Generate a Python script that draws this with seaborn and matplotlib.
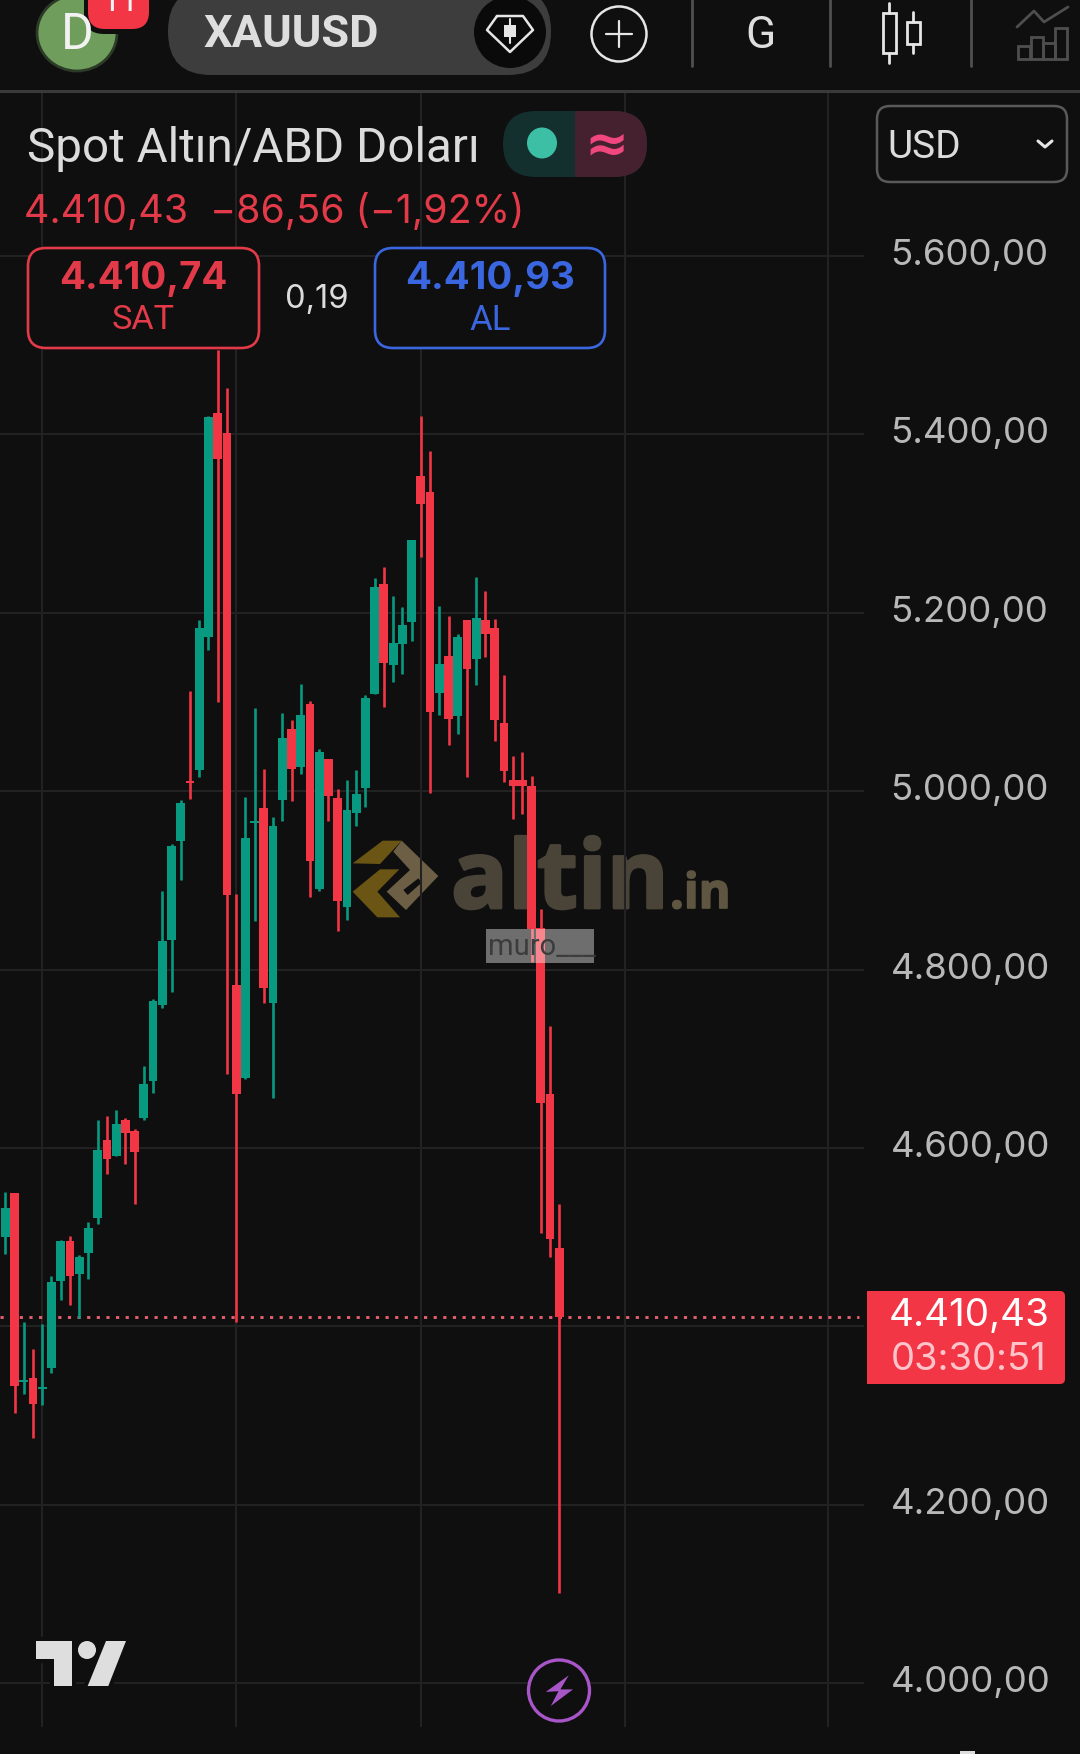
import numpy as np
import matplotlib
matplotlib.use("Agg")
import matplotlib.pyplot as plt
from matplotlib.patches import Circle, Ellipse, FancyBboxPatch, Polygon, Rectangle
from matplotlib.transforms import ScaledTranslation
import matplotlib.patheffects as pe
import seaborn as sns

# candles, oldest first
opens = [4499.7, 4549.3, 4338.3, 4342.7, 4329.6, 4354.0, 4451.0, 4496.3, 4459.3, 4482.7,
         4521.6, 4609.0, 4591.5, 4631.9, 4618.8, 4633.3, 4675.6, 4760.7, 4832.6, 4944.4,
         5011.3, 5023.6, 5173.0, 5424.0, 5401.0, 4782.6, 4678.1, 4964.2, 4980.8, 4762.2,
         4990.4, 5069.6, 5027.0, 5098.0, 4890.0, 5036.1, 4992.0, 4870.0, 4976.0, 5004.0,
         5109.3, 5232.2, 5141.3, 5165.3, 5189.0, 5353.1, 5335.2, 5110.0, 5151.4, 5084.2,
         5192.2, 5148.0, 5191.8, 5182.8, 5076.3, 5012.4, 5012.4, 5005.3, 4846.6, 4660.6,
         4488.0]
highs = [4550.7, 4549.5, 4404.9, 4374.8, 4402.5, 4456.0, 4497.2, 4501.1, 4480.2, 4516.7,
         4630.9, 4635.8, 4643.0, 4633.3, 4621.2, 4691.6, 4767.0, 4888.5, 4941.0, 4990.5,
         5112.2, 5191.7, 5420.4, 5494.3, 5451.4, 4885.1, 4993.9, 5092.8, 5024.4, 4971.0,
         5087.2, 5079.7, 5120.2, 5101.0, 5046.9, 5036.1, 5002.0, 5012.0, 5024.0, 5107.2,
         5238.9, 5251.1, 5218.2, 5206.2, 5281.4, 5420.4, 5381.2, 5207.0, 5196.2, 5176.0,
         5192.2, 5240.2, 5224.2, 5192.9, 5130.1, 5039.4, 5044.0, 5016.9, 4867.9, 4736.8,
         4537.3]
lows = [4481.7, 4302.8, 4324.7, 4274.7, 4311.6, 4347.6, 4429.2, 4424.4, 4409.8, 4453.5,
        4514.3, 4571.1, 4590.6, 4582.3, 4537.1, 4630.9, 4661.5, 4757.3, 4774.3, 4900.6,
        4991.6, 5015.4, 5158.1, 5100.2, 4682.9, 4405.0, 4677.0, 4854.4, 4762.2, 4656.2,
        4966.2, 4988.9, 5019.3, 4880.8, 4888.0, 4966.0, 4842.8, 4856.0, 4961.2, 4982.0,
        5109.0, 5094.1, 5122.1, 5131.4, 5168.2, 5262.4, 4998.0, 5085.3, 5052.1, 5064.0,
        5016.0, 5118.9, 5150.3, 5056.1, 5010.2, 4969.2, 4974.8, 4808.4, 4504.8, 4478.2,
        4100.8]
closes = [4532.7, 4333.0, 4340.3, 4312.6, 4332.5, 4449.6, 4495.8, 4456.9, 4477.8, 4510.9,
          4598.3, 4587.2, 4627.0, 4616.3, 4595.9, 4671.2, 4764.6, 4831.6, 4938.0, 4986.6,
          5009.6, 5182.4, 5419.6, 5371.8, 4883.6, 4660.1, 4946.9, 4966.0, 4779.1, 4961.4,
          5059.5, 5025.3, 5085.3, 4922.0, 5043.3, 4994.0, 4876.8, 4978.8, 4996.8, 5104.1,
          5228.2, 5144.1, 5166.1, 5186.2, 5281.4, 5322.2, 5088.9, 5142.1, 5081.3, 5172.9,
          5137.3, 5194.1, 5176.0, 5080.1, 5022.1, 5006.0, 5006.0, 4845.4, 4650.8, 4498.0,
          4410.43]

price_ticks = [5600, 5400, 5200, 5000, 4800, 4600, 4400, 4200, 4000]
price_labels = ["5.600,00", "5.400,00", "5.200,00", "5.000,00", "4.800,00", "4.600,00", "",
                "4.200,00", "4.000,00"]
date_ticks = [4, 25, 45, 67.1, 89.1]
last_price = 4410.43

BG = "#0f0f0f"
UP = "#089981"
DOWN = "#f23645"
GRID = "#222222"
FONT = "Roboto"
NUM = "Inter"

W, H = 1080, 1754

sns.set_theme(style="dark", rc={"axes.facecolor": "none", "figure.facecolor": BG,
                                "savefig.facecolor": BG, "axes.edgecolor": BG})
plt.rcParams["font.family"] = [FONT, "DejaVu Sans"]

fig = plt.figure(figsize=(W / 100, H / 100), dpi=100)


def pixel_axes(zorder):
    a = fig.add_axes([0, 0, 1, 1], zorder=zorder)
    a.set_xlim(0, W)
    a.set_ylim(H, 0)
    a.axis("off")
    return a


def label(a, x, y, s, size, color="#dcdcdc", ha="center", weight="normal", family=FONT, **kw):
    return a.text(x, y, s, fontsize=size, color=color, ha=ha, va="center", fontweight=weight,
                  family=family, **kw)


def rounded(a, x0, y0, x1, y1, r, **kw):
    p = FancyBboxPatch((x0 + r, y0 + r), x1 - x0 - 2 * r, y1 - y0 - 2 * r,
                       boxstyle=f"round,pad={r},rounding_size={r}", **kw)
    a.add_patch(p)
    return p


# watermark sits under the candles
back = pixel_axes(0)


def zoom_pts(pts):
    return [(340 + x / 3, 810 + y / 3) for x, y in pts]


back.add_patch(Polygon(zoom_pts([(38, 160), (128, 92), (185, 92), (120, 162)]), color="#6b5515", lw=0))
back.add_patch(Polygon(zoom_pts([(38, 245), (120, 178), (178, 178), (112, 245), (180, 322), (112, 322)]),
                       color="#6b5515", lw=0))
back.add_patch(Polygon(zoom_pts([(160, 125), (185, 92), (295, 198), (198, 300), (140, 245), (210, 180)]),
                       color="#6d5f45", lw=0))
back.add_patch(Polygon(zoom_pts([(190, 240), (235, 205), (245, 218), (203, 255)]), color=BG, lw=0))
heavy = [pe.withStroke(linewidth=2, foreground="#4a4338")]
back.text(451, 908, "altin", fontsize=68, color="#4a4338", family="Open Sans", fontweight="bold",
          ha="left", va="baseline", path_effects=heavy)
back.text(670, 908, ".in", fontsize=35, color="#5e5640", family="Open Sans", fontweight="bold",
          ha="left", va="baseline", path_effects=[pe.withStroke(linewidth=1.2, foreground="#5e5640")])

# price pane, pixel 0..864 wide and 92..1727 tall
ax = fig.add_axes([0, (H - 1727) / H, 864 / W, (1727 - 92) / H], zorder=1)

idx = np.arange(len(opens))
o, h, l, c = map(np.array, (opens, highs, lows, closes))
up = c >= o

ax.vlines(idx[up], l[up], h[up], color=UP, lw=1.9, zorder=3)
ax.vlines(idx[~up], l[~up], h[~up], color=DOWN, lw=1.9, zorder=3)
sns.barplot(x=idx[up], y=(c - o)[up], bottom=o[up], native_scale=True, color=UP, saturation=1,
            width=0.95, errorbar=None, linewidth=0, ax=ax, zorder=4)
sns.barplot(x=idx[~up], y=(o - c)[~up], bottom=c[~up], native_scale=True, color=DOWN, saturation=1,
            width=0.95, errorbar=None, linewidth=0, ax=ax, zorder=4)

ax.axhline(last_price, color="#e0606f", lw=2.1, ls=(0, (1.1, 2.2)), xmax=859 / 864, zorder=2)

ax.set_xlim(-0.577, 93.0)
ax.set_ylim(3951.1, 5783.5)
ax.set_xticks(date_ticks)
ax.set_xticklabels([])
ax.set_yticks(price_ticks)
ax.set_yticklabels(price_labels, family=NUM)
ax.yaxis.tick_right()
ax.tick_params(axis="y", length=0, pad=19, labelsize=26.4, labelcolor="#b8b8b8")
ax.tick_params(axis="x", length=0)
ax.grid(True, color=GRID, lw=1.5)
ax.set_axisbelow(True)
ax.set_xlabel("")
ax.set_ylabel("")
sns.despine(ax=ax, left=True, bottom=True, right=True, top=True)
lift = ScaledTranslation(0, 4 / 100, fig.dpi_scale_trans)
for t in ax.get_yticklabels():
    t.set_transform(t.get_transform() + lift)

ui = pixel_axes(3)

# top bar
ui.add_patch(Rectangle((0, 90), W, 2.5, color="#3a3a3a", lw=0))
ui.add_patch(Ellipse((77, 33), 80, 76, fc="#6f9e5c", ec="#2c3a28", lw=2))
label(ui, 77, 35, "D", 36, "#f2f2f2")
rounded(ui, 84, -30, 152, 34, 20, fc=BG, ec="none")
rounded(ui, 88, -30, 149, 29, 17, fc=DOWN, ec="none")
label(ui, 120, 2, "11", 24, "#f5f5f5")
rounded(ui, 168, -12, 551, 75, 43, fc="#3d3d3d", ec="none")
label(ui, 291, 35, "XAUUSD", 32.5, "#dedede", weight="bold")
ui.add_patch(Circle((510, 32), 36, fc="#0a0a0a", ec="none"))
ui.plot([497, 523, 533, 510, 487, 497], [16, 16, 30, 52, 30, 16], color="#e6e6e6", lw=1.8)
ui.add_patch(Rectangle((504, 25), 12, 12, color="#e6e6e6", lw=0))
ui.plot([510, 510], [19, 43], color="#e6e6e6", lw=1.5)
ui.add_patch(Circle((619, 34), 27.5, fc="none", ec="#e6e6e6", lw=1.8))
ui.plot([606, 632], [34, 34], color="#e6e6e6", lw=1.6)
ui.plot([619, 619], [21, 47], color="#e6e6e6", lw=1.6)
for sx in (692, 830, 971):
    ui.plot([sx, sx], [0, 66], color="#505050", lw=2)
label(ui, 760, 36, "G", 32, "#dedede")
ui.plot([889, 889], [3, 13], color="#e6e6e6", lw=2)
ui.plot([889, 889], [53, 63], color="#e6e6e6", lw=2)
ui.add_patch(Rectangle((883, 13), 13, 40, fc="none", ec="#e6e6e6", lw=2))
ui.plot([913, 913], [12, 22], color="#e6e6e6", lw=2)
ui.plot([913, 913], [44, 53], color="#e6e6e6", lw=2)
ui.add_patch(Rectangle((907, 22), 13, 22, fc="none", ec="#e6e6e6", lw=2))
ui.plot([1017, 1034, 1044, 1068], [27, 11, 22, 7], color="#4e4e4e", lw=2)
for bx0, bx1, by in ((1018, 1030, 46), (1031, 1043, 37), (1043, 1055, 43), (1055, 1067, 28)):
    ui.add_patch(Rectangle((bx0, by), bx1 - bx0, 59 - by, fc="none", ec="#4e4e4e", lw=2))

# symbol header
label(ui, 27, 149, "Spot Altın/ABD Doları", 34.3, "#dcdcdc", ha="left")
rounded(ui, 503, 111, 647, 177, 33, fc="#14302e", ec="none")
clip = rounded(ui, 503, 111, 647, 177, 33, fc="#45202f", ec="none")
clip.set_clip_path(Rectangle((575, 100), 80, 90, transform=ui.transData))
ui.add_patch(Ellipse((542, 143), 30, 31, fc="#3dbfa5", ec="none"))
label(ui, 607, 145, "≈", 38, "#f0477f", weight="bold", family="DejaVu Sans")
label(ui, 24, 212, "4.410,43  −86,56 (−1,92%)", 28.3, "#e23a48", ha="left", family=NUM)

# bid / ask boxes
rounded(ui, 28, 248, 259, 348, 18, fc=BG, ec="#e23a48", lw=1.9)
label(ui, 143, 279, "4.410,74", 27.7, "#e23a48", weight="bold", family=NUM)
label(ui, 143, 320, "SAT", 24.7, "#e23a48", family=FONT)
label(ui, 317, 299, "0,19", 23.5, "#dcdcdc", family=NUM)
rounded(ui, 375, 248, 605, 348, 18, fc=BG, ec="#3a66e0", lw=1.9)
label(ui, 490, 279, "4.410,93", 27.7, "#3a66e0", weight="bold", family=NUM)
label(ui, 490, 320, "AL", 25, "#3a66e0", family=FONT)

# currency selector
rounded(ui, 877, 106, 1067, 182, 13, fc=BG, ec="#5a5a5a", lw=1.8)
label(ui, 887, 147, "USD", 28, "#dcdcdc", ha="left")
ui.plot([1038, 1045, 1052], [141, 147, 141], color="#e6e6e6", lw=2.2)

# last price tag
rounded(ui, 867, 1291, 1065, 1384, 5, fc=DOWN, ec="none")
ui.add_patch(Rectangle((867, 1291), 10, 93, color=DOWN, lw=0))
label(ui, 969, 1316, "4.410,43", 27.8, "#ffffff", family=NUM)
label(ui, 969, 1360, "03:30:51", 27.5, "#ffc4ca", family=NUM)

# username box over the candles
ui.add_patch(Rectangle((486, 929), 108, 34, color="#ffffff", alpha=0.4, lw=0))
label(ui, 488, 947, "muro___", 21, "#3c3c3c", ha="left")

# tradingview mark
ui.add_patch(Polygon([(36, 1641), (72, 1641), (72, 1686), (54, 1686), (54, 1659), (36, 1659)],
                     fc="#dedede", ec=BG, lw=6, joinstyle="miter"))
ui.add_patch(Circle((87, 1650), 9, fc="#dedede", ec=BG, lw=4))
ui.add_patch(Polygon([(106, 1641), (126, 1641), (108.3, 1686), (87.7, 1686)], fc="#dedede", ec=BG, lw=6))
ui.add_patch(Polygon([(36, 1641), (72, 1641), (72, 1686), (54, 1686), (54, 1659), (36, 1659)],
                     fc="#dedede", ec="none"))
ui.add_patch(Circle((87, 1650), 9, fc="#dedede", ec="none"))
ui.add_patch(Polygon([(106, 1641), (126, 1641), (108.3, 1686), (87.7, 1686)], fc="#dedede", ec="none"))

# lightning button
ui.add_patch(Circle((559, 1690.5), 30.5, fc=BG, ec="#a855c8", lw=2.4))
ui.add_patch(Polygon([(568.8, 1675.3), (545.8, 1691.9), (558.5, 1691.2), (550.8, 1706), (573, 1689.4),
                      (560.4, 1689.4)], fc="#a855c8", ec="none"))
ui.add_patch(Rectangle((960, 1751), 15, 3, color="#dddddd", lw=0))

fig.savefig("out.png", dpi=100)
